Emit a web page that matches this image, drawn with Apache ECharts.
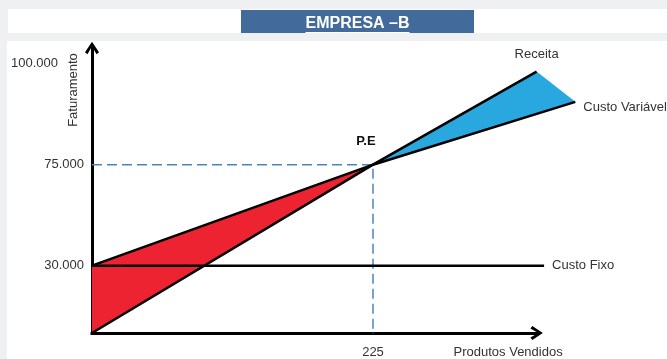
<!DOCTYPE html>
<html><head><meta charset="utf-8">
<script src="https://cdn.jsdelivr.net/npm/echarts@6/dist/echarts.min.js"></script>
<style>html,body{margin:0;padding:0;background:#eff0f2;} #c{width:667px;height:359px;}</style>
</head><body><div id="c"></div>
<script>
// ---- data ----
const titleText = 'EMPRESA –B';
const xName = 'Produtos Vendidos';
const yName = 'Faturamento';
const yTickValues = [30000, 75000, 100000];
const yTickLabels = ['30.000', '75.000', '100.000'];
const xTickValues = [225];
const xTickLabels = ['225'];
const receita = [[0, 0], [225, 75000], [356, 116500]];
const custoVariavel = [[0, 30000], [225, 75000], [387, 103000]];
const custoFixo = [[0, 30000], [362, 30000]];
const pontoEquilibrio = [225, 75000];
const peLabel = 'P.E';
const seriesNames = ['Receita', 'Custo Variável', 'Custo Fixo'];

// regions built from the arrays above
const prejuizoArea = [receita[0], custoVariavel[0], pontoEquilibrio];
const lucroArea = [pontoEquilibrio, receita[receita.length - 1], custoVariavel[custoVariavel.length - 1]];
const peGuide = [[0, pontoEquilibrio[1]], pontoEquilibrio, [pontoEquilibrio[0], 0]];

// ---- styling ----
const FONT = '"Liberation Sans", Arial, sans-serif';
const TXT = '#333333';
const titleFontFamily = '"Liberation Sans", Arial, sans-serif';
const titleSize = 16;
const cv = document.createElement('canvas').getContext('2d');
cv.font = 'bold ' + titleSize + 'px ' + titleFontFamily;
const titleW = cv.measureText(titleText).width;
const boxLeft = 241, boxW = 233;
const padH = (boxW - titleW) / 2;

const chevron = 'path://M7,0 L14,10.5 L11.5,12.5 L7,4.5 L2.5,12.5 L0,10.5 Z';

// a black line drawn through the axes' scales, with its name next to its last point
function lineSeries(points, name, labelPos) {
  return {
    name: name, type: 'custom', coordinateSystem: 'cartesian2d', data: [[0, 0]], z: 3, silent: true, clip: false,
    renderItem: (params, api) => {
      const pts = points.map(p => api.coord(p));
      const end = pts[pts.length - 1];
      let tx, ty, align, vAlign;
      if (labelPos === 'top') { tx = end[0]; ty = end[1] - 10.5; align = 'center'; vAlign = 'bottom'; }
      else if (labelPos === 'rightLow') { tx = end[0] + 8; ty = end[1] + 6; align = 'left'; vAlign = 'middle'; }
      else { tx = end[0] + 8; ty = end[1]; align = 'left'; vAlign = 'middle'; }
      return {
        type: 'group',
        children: [
          { type: 'polyline', shape: { points: pts }, style: { stroke: '#000', lineWidth: 2.5, fill: null, lineJoin: 'miter' } },
          { type: 'text', x: tx, y: ty, style: { text: name, fill: TXT, font: '13px ' + FONT, align: align, verticalAlign: vAlign } }
        ]
      };
    }
  };
}

const chart = echarts.init(document.getElementById('c'));
chart.setOption({
  animation: false,
  backgroundColor: '#eff0f2',
  title: {
    text: titleText, left: boxLeft, top: 10,
    padding: [4, padH, 0, padH],
    backgroundColor: '#426a9a',
    textStyle: { color: '#ffffff', fontFamily: titleFontFamily, fontSize: titleSize, fontWeight: 'bold', lineHeight: 19 }
  },
  graphic: [
    { type: 'rect', z: -100, shape: { x: 8, y: 9, width: 659, height: 24 }, style: { fill: '#ffffff' }, silent: true },
    { type: 'rect', z: -100, shape: { x: 7, y: 41, width: 660, height: 318 }, style: { fill: '#ffffff' }, silent: true },
    { type: 'line', z: 100, shape: { x1: boxLeft + padH, y1: 32.5, x2: boxLeft + padH + titleW, y2: 32.5 }, style: { stroke: '#ffffff', lineWidth: 1 }, silent: true }
  ],
  grid: { left: 92, right: 130.4, top: 48, bottom: 23, containLabel: false },
  xAxis: {
    type: 'value', min: 0, max: 356,
    name: xName, nameLocation: 'end', nameGap: -28.5, nameMoveOverlap: false,
    nameTextStyle: { color: TXT, fontFamily: FONT, fontSize: 13, align: 'center', verticalAlign: 'top', padding: [13, 0, 0, 0] },
    axisLine: { show: true, onZero: false, symbol: ['none', chevron], symbolSize: [14, 13], lineStyle: { color: '#000', width: 3, cap: 'square' } },
    axisTick: { show: false },
    splitLine: { show: false },
    axisLabel: { customValues: xTickValues, formatter: v => xTickLabels[xTickValues.indexOf(v)], color: TXT, fontFamily: FONT, fontSize: 13, margin: 13 }
  },
  yAxis: {
    type: 'value', min: 0, max: 127000,
    name: yName, nameLocation: 'end', nameGap: -42, nameRotate: 90, nameMoveOverlap: false,
    nameTextStyle: { color: TXT, fontFamily: FONT, fontSize: 13, align: 'center', verticalAlign: 'bottom', padding: [0, 0, 12, 0] },
    axisLine: { show: true, onZero: false, symbol: ['none', chevron], symbolSize: [14, 13], lineStyle: { color: '#000', width: 3, cap: 'square' } },
    axisTick: { show: false },
    splitLine: { show: false },
    axisLabel: {
      customValues: yTickValues,
      formatter: v => {
        const t = yTickLabels[yTickValues.indexOf(v)];
        // the reference sets its top label apart, up beside the axis name
        return v === yTickValues[yTickValues.length - 1] ? '{top|' + t + '}' : t;
      },
      rich: { top: { color: TXT, fontFamily: FONT, fontSize: 13, padding: [0, 26, 90, 0] } },
      color: TXT, fontFamily: FONT, fontSize: 13, margin: 8
    }
  },
  series: [
    {
      type: 'custom', coordinateSystem: 'cartesian2d', data: [[0, 0]], z: 1, silent: true, clip: false,
      renderItem: (params, api) => ({ type: 'polygon', shape: { points: prejuizoArea.map(p => api.coord(p)) }, style: { fill: '#ee2331' } })
    },
    {
      type: 'custom', coordinateSystem: 'cartesian2d', data: [[0, 0]], z: 1, silent: true, clip: false,
      renderItem: (params, api) => ({ type: 'polygon', shape: { points: lucroArea.map(p => api.coord(p)) }, style: { fill: '#29a8df' } })
    },
    {
      type: 'line', z: 2, silent: true,
      data: peGuide.map((p, i) => i === 1 ? { value: p, label: { show: true, formatter: peLabel, position: 'top', distance: 16, offset: [-7, 0], fontWeight: 'bold', color: '#111', fontFamily: FONT, fontSize: 13 } } : p),
      symbol: 'circle', symbolSize: 1, showSymbol: true, showAllSymbol: true,
      itemStyle: { color: '#4f81bd' },
      lineStyle: { color: '#4f81bd', width: 1.5, type: [10, 5] }
    },
    lineSeries(custoFixo, seriesNames[2], 'right'),
    lineSeries(receita, seriesNames[0], 'top'),
    lineSeries(custoVariavel, seriesNames[1], 'rightLow')
  ]
});
</script>
</body></html>
